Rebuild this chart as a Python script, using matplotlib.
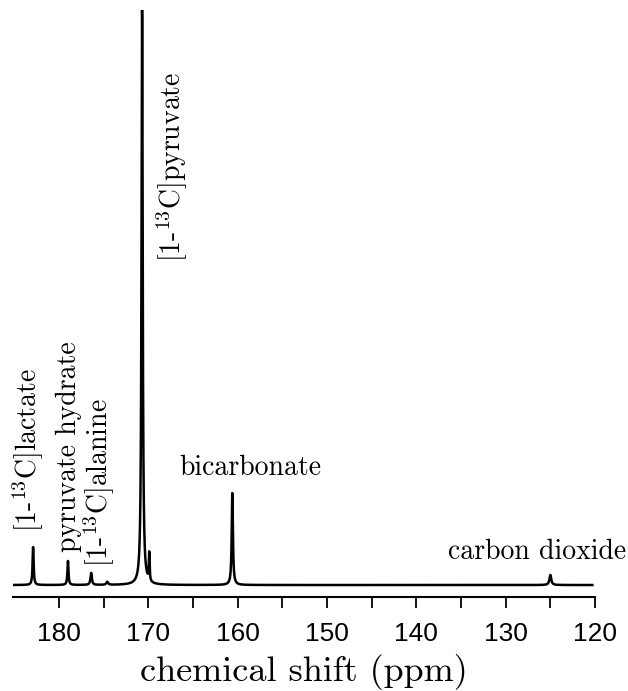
import numpy as np
import matplotlib
matplotlib.use("Agg")
import matplotlib.pyplot as plt

plt.rcParams['mathtext.fontset'] = 'cm'
plt.rcParams['font.family'] = 'serif'
plt.rcParams['font.serif'] = ['cmr10', 'DejaVu Serif']
plt.rcParams['axes.unicode_minus'] = False

# peaks (ppm, height above baseline, half width)
peak_ppm = [182.9, 179.0, 176.4, 174.6, 170.7, 169.9, 160.6, 125.0]
peak_height = [38, 24, 12, 3, 575, 28, 92, 10]
peak_hwhm = [0.07, 0.07, 0.09, 0.12, 0.08, 0.05, 0.08, 0.12]

labels = ["[1-$^{13}$C]lactate", "pyruvate hydrate", "[1-$^{13}$C]alanine",
          "[1-$^{13}$C]pyruvate", "bicarbonate", "carbon dioxide"]
label_x = [183.4, 178.9, 175.5, 167.3, 158.6, 126.5]
label_y = [53, 33, 18, 323, 117, 33]
label_rot = [90, 90, 90, 90, 0, 0]

ppm = np.linspace(185.1, 120.3, 6000)
spec = np.zeros_like(ppm)
for x0, h, w in zip(peak_ppm, peak_height, peak_hwhm):
    spec += h / (1 + ((ppm - x0) / w) ** 2)

fig = plt.figure(figsize=(6.28, 6.91), dpi=100)
ax = fig.add_axes([0.0207, 0.136, 0.9268, 0.8495])
ax.plot(ppm, spec, color='black', lw=1.8)

ax.set_xlim(185.15, 120)
ax.set_ylim(-12, 575)

for s in ['top', 'left', 'right']:
    ax.spines[s].set_visible(False)
ax.spines['bottom'].set_linewidth(1.5)
ax.set_yticks([])
ax.set_xticks(np.arange(120, 185, 5), minor=True)
ax.set_xticks([180, 170, 160, 150, 140, 130, 120])
ax.set_xticklabels(['180', '170', '160', '150', '140', '130', '120'],
                   family='Liberation Sans', fontsize=19)
ax.tick_params(axis='x', which='both', direction='out', length=8, width=1.3, pad=10)

for t, x, y, r in zip(labels, label_x, label_y, label_rot):
    if r == 90:
        ax.text(x, y, t, rotation=90, ha='center', va='bottom', fontsize=20)
    else:
        ax.text(x, y, t, ha='center', va='center', fontsize=20)

ax.set_xlabel("chemical shift (ppm)", fontsize=26, labelpad=6)

fig.savefig("out.png", dpi=100)
